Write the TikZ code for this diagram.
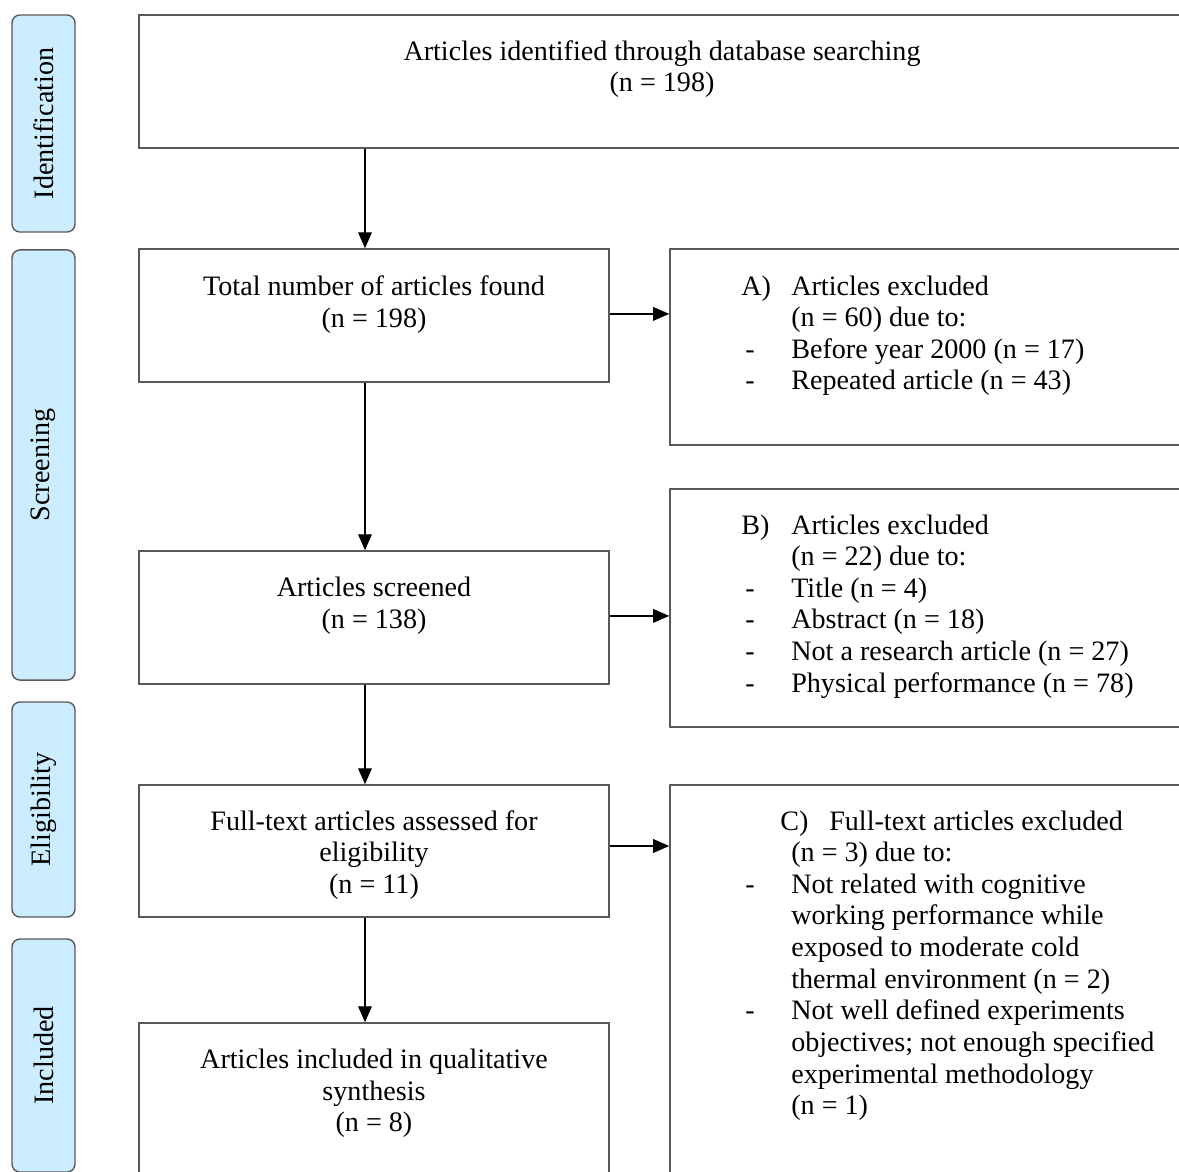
\documentclass[tikz,border=0pt]{standalone}
\usepackage{fontspec}
\setmainfont{Liberation Serif}
\usetikzlibrary{arrows.meta}
\definecolor{sidefill}{RGB}{204,236,255}
\begin{document}
\begin{tikzpicture}[x=0.025cm,y=-0.025cm,
	  every node/.style={font=\fontsize{20}{22.5}\selectfont},
	  box/.style={draw=black!65,line width=1pt,rectangle,inner sep=0pt},
	  side/.style={draw=black!65,line width=1pt,fill=sidefill,rounded corners=0.2cm,rotate=90,minimum height=1.575cm,inner sep=0pt},
	  txt/.style={align=center,inner sep=0pt},
	  lst/.style={anchor=base west,inner sep=0pt},
	  arr/.style={-{Triangle[length=0.4cm,width=0.34cm]},line width=1pt}]
	  \useasboundingbox (0,0) rectangle (1179,1172);
	  \clip (0,0) rectangle (1179,1172);
	  \node (S1) [side,minimum width=5.425cm] at (43.5,123.5) {Identification};
	  \node (S2) [side,minimum width=10.75cm] at (43.5,465) {Screening};
	  \node (S3) [side,minimum width=5.375cm] at (43.5,809.5) {Eligibility};
	  \node (S4) [side,minimum width=5.825cm] at (43.5,1055.5) {Included};
	  \node (B1) [box,minimum width=26.15cm,minimum height=3.325cm] at (662,81.5) {};
	  \node (T1) [txt] at (662,69) {Articles identified through database searching\\(n = 198)};
	  \node (B2) [box,minimum width=11.75cm,minimum height=3.325cm] at (374,315.5) {};
	  \node (T2) [txt] at (374,304.5) {Total number of articles found\\(n = 198)};
	  \node (B3) [box,minimum width=11.75cm,minimum height=3.325cm] at (374,617.5) {};
	  \node (T3) [txt] at (374,605.5) {Articles screened\\(n = 138)};
	  \node (B4) [box,minimum width=11.75cm,minimum height=3.3cm] at (374,851) {};
	  \node (T4) [txt] at (374,855) {Full-text articles assessed for\\eligibility\\(n = 11)};
	  \node (B5) [box,minimum width=11.75cm,minimum height=4.175cm] at (374,1106.5) {};
	  \node (T5) [txt] at (374,1093.5) {Articles included in qualitative\\synthesis\\(n = 8)};
	  \node (X1) [box,minimum width=12.875cm,minimum height=4.9cm] at (927.5,347) {};
	  \node (L1) [lst] at (741,295) {\begin{tabular}[t]{@{}p{1.25cm}@{}l@{}}
	    A) & Articles excluded\\
	       & (n = 60) due to:\\
	    \hspace{0.1cm}- & Before year 2000 (n = 17)\\
	    \hspace{0.1cm}- & Repeated article (n = 43)
	  \end{tabular}};
	  \node (X2) [box,minimum width=12.875cm,minimum height=5.95cm] at (927.5,608) {};
	  \node (L2) [lst] at (741,534) {\begin{tabular}[t]{@{}p{1.25cm}@{}l@{}}
	    B) & Articles excluded\\
	       & (n = 22) due to:\\
	    \hspace{0.1cm}- & Title (n = 4)\\
	    \hspace{0.1cm}- & Abstract (n = 18)\\
	    \hspace{0.1cm}- & Not a research article (n = 27)\\
	    \hspace{0.1cm}- & Physical performance (n = 78)
	  \end{tabular}};
	  \node (X3) [box,minimum width=12.875cm,minimum height=10.125cm] at (927.5,987.5) {};
	  \node (L3) [lst] at (741,830) {\begin{tabular}[t]{@{}p{1.25cm}@{}l@{}}
	    \multicolumn{2}{@{}l@{}}{\hspace{0.975cm}\makebox[1.225cm][l]{C)}Full-text articles excluded}\\
	       & (n = 3) due to:\\
	    \hspace{0.1cm}- & Not related with cognitive\\
	       & working performance while\\
	       & exposed to moderate cold\\
	       & thermal environment (n = 2)\\
	    \hspace{0.1cm}- & Not well defined experiments\\
	       & objectives; not enough specified\\
	       & experimental methodology\\
	       & (n = 1)
	  \end{tabular}};
	  \coordinate (ax) at (365,0);
	  \draw [arr] (B1.south -| ax) -- (B2.north -| ax);
	  \draw [arr] (B2.south -| ax) -- (B3.north -| ax);
	  \draw [arr] (B3.south -| ax) -- (B4.north -| ax);
	  \draw [arr] (B4.south -| ax) -- (B5.north -| ax);
	  \draw [arr] ([yshift=0.04cm]B2.east) -- ([yshift=0.04cm]X1.west |- B2.east);
	  \draw [arr] ([yshift=0.04cm]B3.east) -- ([yshift=0.04cm]X2.west |- B3.east);
	  \draw [arr] ([yshift=0.125cm]B4.east) -- ([yshift=0.125cm]X3.west |- B4.east);
	\end{tikzpicture}
\end{document}
